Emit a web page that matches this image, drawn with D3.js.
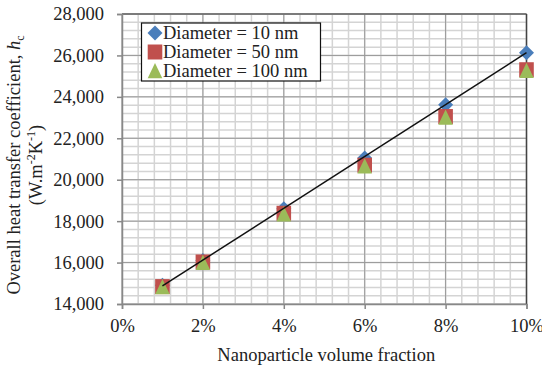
<!DOCTYPE html>
<html><head><meta charset="utf-8">
<script src="https://cdn.jsdelivr.net/npm/d3@7"></script>
<style>
body{margin:0;background:#fff;}
svg text{font-family:"Liberation Serif","Times New Roman",Times,"DejaVu Serif",serif !important;fill:#222;}
</style></head>
<body><svg id="c" width="542" height="368"></svg>
<script>
const xVals = [1, 2, 4, 6, 8, 10];
const d10 = [14900, 16100, 18600, 21050, 23620, 26130];
const d50 = [14840, 16030, 18380, 20700, 23050, 25310];
const d100 = [14820, 15990, 18340, 20650, 23000, 25260];
const trendX = [1, 10];
const trendY = [14870, 26130];
const xTicks = [0, 2, 4, 6, 8, 10];
const yTicks = [14000, 16000, 18000, 20000, 22000, 24000, 26000, 28000];
const seriesNames = ["Diameter = 10 nm", "Diameter = 50 nm", "Diameter = 100 nm"];
const seriesColors = ["#4a7ebb", "#c0504d", "#9bbb59"];

const FONT = "'Liberation Serif','Times New Roman',Times,serif";
const svg = d3.select("#c");
const L = 122, R = 526.5, T = 14, B = 304;
const x = d3.scaleLinear().domain([0, 10]).range([L, R]);
const y = d3.scaleLinear().domain([14000, 28000]).range([B, T]);
const fs = "18.5px";

// minor grid
const g = svg.append("g");
g.selectAll(".mx").data(d3.range(0, 10.001, 0.4)).enter().append("line")
  .attr("x1", d => x(d)).attr("x2", d => x(d)).attr("y1", T).attr("y2", B)
  .attr("stroke", "#d4d4d4").attr("stroke-width", 1.5);
g.selectAll(".my").data(d3.range(14000, 28001, 400)).enter().append("line")
  .attr("y1", d => y(d)).attr("y2", d => y(d)).attr("x1", L).attr("x2", R)
  .attr("stroke", "#d4d4d4").attr("stroke-width", 1.5);
// major grid
g.selectAll(".Mx").data(xTicks).enter().append("line")
  .attr("x1", d => x(d)).attr("x2", d => x(d)).attr("y1", T).attr("y2", B)
  .attr("stroke", "#999").attr("stroke-width", 1);
g.selectAll(".My").data(yTicks).enter().append("line")
  .attr("y1", d => y(d)).attr("y2", d => y(d)).attr("x1", L).attr("x2", R)
  .attr("stroke", "#999").attr("stroke-width", 1);
// border top/right
svg.append("line").attr("x1", L).attr("x2", R).attr("y1", T).attr("y2", T).attr("stroke", "#666").attr("stroke-width", 1.5);
svg.append("line").attr("x1", R).attr("x2", R).attr("y1", T).attr("y2", B).attr("stroke", "#444").attr("stroke-width", 1.5);

// axes
const xAxis = svg.append("g").attr("transform", `translate(0,${B})`)
  .call(d3.axisBottom(x).tickValues(xTicks).tickFormat(d => d + "%").tickSize(5).tickPadding(10));
const yAxis = svg.append("g").attr("transform", `translate(${L},0)`)
  .call(d3.axisLeft(y).tickValues(yTicks).tickFormat(d3.format(",")).tickSize(5).tickPadding(13));
[xAxis, yAxis].forEach(a => {
  a.attr("font-family", FONT).attr("font-size", fs);
  a.select(".domain").attr("stroke", "#888").attr("stroke-width", 1.5);
  a.selectAll(".tick line").attr("stroke", "#888").attr("stroke-width", 1.5);
  a.selectAll("text").attr("font-family", FONT).style("font-size", fs).attr("fill", "#222");
});

// markers
const allSeries = [d10, d50, d100];
function marker(sel, i) {
  if (i === 0) {
    sel.attr("d", "M0,-7.5L7.5,0L0,7.5L-7.5,0Z");
  } else if (i === 1) {
    sel.attr("d", "M-7.3,-7.5H7.3V7.5H-7.3Z");
  } else {
    sel.attr("d", "M0,-8L7.3,7.3H-7.3Z");
  }
  sel.attr("fill", seriesColors[i]);
}
allSeries.forEach((s, i) => {
  svg.append("g").selectAll("path").data(s).enter().append("path")
    .attr("transform", (d, j) => `translate(${x(xVals[j])},${y(d)})`)
    .call(marker, i);
});

// trend line
svg.append("path")
  .attr("d", d3.line().x((d, j) => x(trendX[j])).y(d => y(d))(trendY))
  .attr("stroke", "#111").attr("stroke-width", 1.5).attr("fill", "none");

// legend
const lg = svg.append("g");
lg.append("rect").attr("x", 141.5).attr("y", 23).attr("width", 179).attr("height", 58)
  .attr("fill", "#fff").attr("stroke", "#111").attr("stroke-width", 1.2);
const rows = [33, 52, 71];
seriesNames.forEach((n, i) => {
  lg.append("path").attr("transform", `translate(155,${rows[i]})`).call(marker, i);
  lg.append("text").attr("x", 163).attr("y", rows[i]).attr("dy", "0.35em")
    .attr("font-family", FONT).style("font-size", fs).text(n);
});

// axis titles
svg.append("text").attr("x", (L + R) / 2 + 2).attr("y", 361).attr("text-anchor", "middle")
  .attr("font-family", FONT).style("font-size", fs).text("Nanoparticle volume fraction");
const yt = svg.append("text").attr("transform", "translate(20,165) rotate(-90)")
  .attr("text-anchor", "middle").attr("font-family", FONT).style("font-size", fs);
yt.append("tspan").text("Overall heat transfer coefficient, ");
yt.append("tspan").style("font-style", "italic").text("h");
yt.append("tspan").attr("dy", 4).style("font-size", "12px").text("c");
const yt2 = svg.append("text").attr("transform", "translate(42,165) rotate(-90)")
  .attr("text-anchor", "middle").attr("font-family", FONT).style("font-size", fs);
yt2.append("tspan").text("(W.m");
yt2.append("tspan").attr("dy", -7).style("font-size", "12px").text("-2");
yt2.append("tspan").attr("dy", 7).text("K");
yt2.append("tspan").attr("dy", -7).style("font-size", "12px").text("-1");
yt2.append("tspan").attr("dy", 7).text(")");
</script></body></html>
